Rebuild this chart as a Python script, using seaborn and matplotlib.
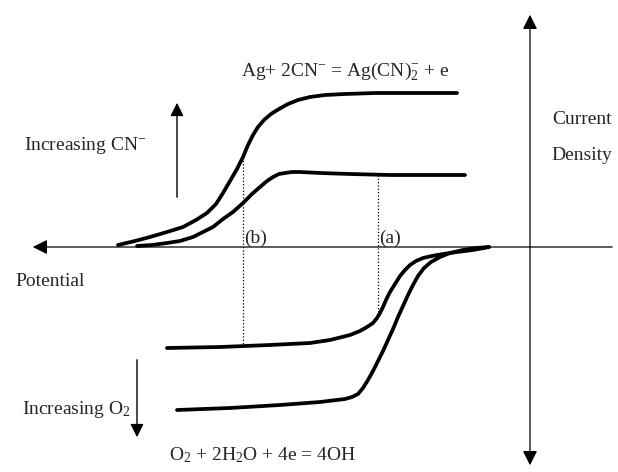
import pandas as pd
import matplotlib.pyplot as plt
import seaborn as sns

# schematic polarisation curves
# potential runs left to right in figure units, current density is up-positive
high_cn_pot = [118, 135, 150, 167, 183, 196, 207, 216, 223, 230, 237, 243, 248, 253, 258, 264, 271,
               279, 288, 298, 310, 325, 345, 375, 415, 457]
high_cn_cur = [2, 6, 10, 15, 20, 27, 34, 43, 54, 66, 78, 90, 102, 112, 120, 127, 133,
               138, 143, 147, 150, 152, 153, 154, 154, 154]

low_cn_pot = [137, 152, 167, 180, 193, 203, 213, 223, 233, 243, 252, 260, 267, 273, 279, 285, 292,
              300, 320, 350, 390, 430, 465]
low_cn_cur = [1, 2, 4, 6, 10, 15, 20, 28, 35, 44, 53, 60, 66, 70, 73, 74, 75,
              75, 74, 73, 72, 72, 72]

low_o2_pot = [167, 220, 270, 310, 330, 350, 360, 367, 373, 377, 380, 383, 386, 390, 395, 400, 405,
              410, 416, 423, 432, 443, 457, 473, 489]
low_o2_cur = [-101, -100, -98, -96, -93, -88, -84, -80, -76, -71, -66, -60, -53, -45, -37, -29, -23,
              -18, -14, -11, -9, -7, -5, -3, 0]

high_o2_pot = [177, 230, 280, 320, 345, 352, 358, 363, 368, 373, 378, 383, 388, 393, 398, 403, 408,
               413, 418, 424, 431, 440, 450, 463, 476, 489]
high_o2_cur = [-163, -161, -158, -155, -152, -150, -147, -141, -133, -124, -114, -104, -93, -82, -70, -59, -48,
               -38, -29, -21, -15, -10, -6, -3, -1, 0]

# mixed potential markers: (label, potential, top current, bottom current)
markers = [("(b)", 243, 90, -98), ("(a)", 378, 72, -70)]

curves = {
    "high CN": (high_cn_pot, high_cn_cur),
    "low CN": (low_cn_pot, low_cn_cur),
    "low O2": (low_o2_pot, low_o2_cur),
    "high O2": (high_o2_pot, high_o2_cur),
}

sns.set_style("white")
plt.rcParams["font.family"] = ["Liberation Serif", "DejaVu Serif"]
plt.rcParams["mathtext.fontset"] = "custom"
plt.rcParams["mathtext.rm"] = "Liberation Serif"
plt.rcParams["mathtext.it"] = "Liberation Serif:italic"

fig = plt.figure(figsize=(6.18, 4.72), dpi=100)
ax = fig.add_axes([0, 0, 1, 1])
ax.set_xlim(0, 618)
ax.set_ylim(-225, 247)
ax.axis("off")

for name, (pot, cur) in curves.items():
    df = pd.DataFrame({"potential": pot, "current": cur})
    sns.lineplot(data=df, x="potential", y="current", sort=False, estimator=None,
                 color="black", linewidth=2.7, ax=ax,
                 solid_joinstyle="round", solid_capstyle="round")

fs = 14
for label, x, top, bottom in markers:
    ax.plot([x, x], [top, bottom], color="black", linestyle=":", linewidth=0.9)
    ax.text(x + 1, 9, label, fontsize=fs, ha="left", va="center")

# axes
ax.annotate("", xy=(30, 0), xytext=(615, 0),
            arrowprops=dict(arrowstyle="-|>", color="black", lw=0.9, mutation_scale=22))
ax.annotate("", xy=(530, 235), xytext=(530, -221),
            arrowprops=dict(arrowstyle="<|-|>", color="black", lw=0.9, mutation_scale=22))

# trend arrows
ax.annotate("", xy=(177, 147), xytext=(177, 47),
            arrowprops=dict(arrowstyle="-|>", color="black", lw=1.0, mutation_scale=20))
ax.annotate("", xy=(137, -193), xytext=(137, -110),
            arrowprops=dict(arrowstyle="-|>", color="black", lw=1.0, mutation_scale=20))

ax.text(345, 176, r"Ag+ 2CN$^{\mathdefault{-}}$ = Ag(CN)$_2^{\mathdefault{-}}$ + e", fontsize=fs, ha="center", va="center")
ax.text(85, 102, r"Increasing CN$^{\mathdefault{-}}$", fontsize=fs, ha="center", va="center")
ax.text(582, 127, "Current", fontsize=fs, ha="center", va="center")
ax.text(582, 91, "Density", fontsize=fs, ha="center", va="center")
ax.text(50, -35, "Potential", fontsize=fs, ha="center", va="center")
ax.text(76, -163, r"Increasing O$_2$", fontsize=fs, ha="center", va="center")
ax.text(262, -208, r"O$_2$ + 2H$_2$O + 4e = 4OH", fontsize=fs, ha="center", va="center")

fig.savefig("out.png", dpi=100)
